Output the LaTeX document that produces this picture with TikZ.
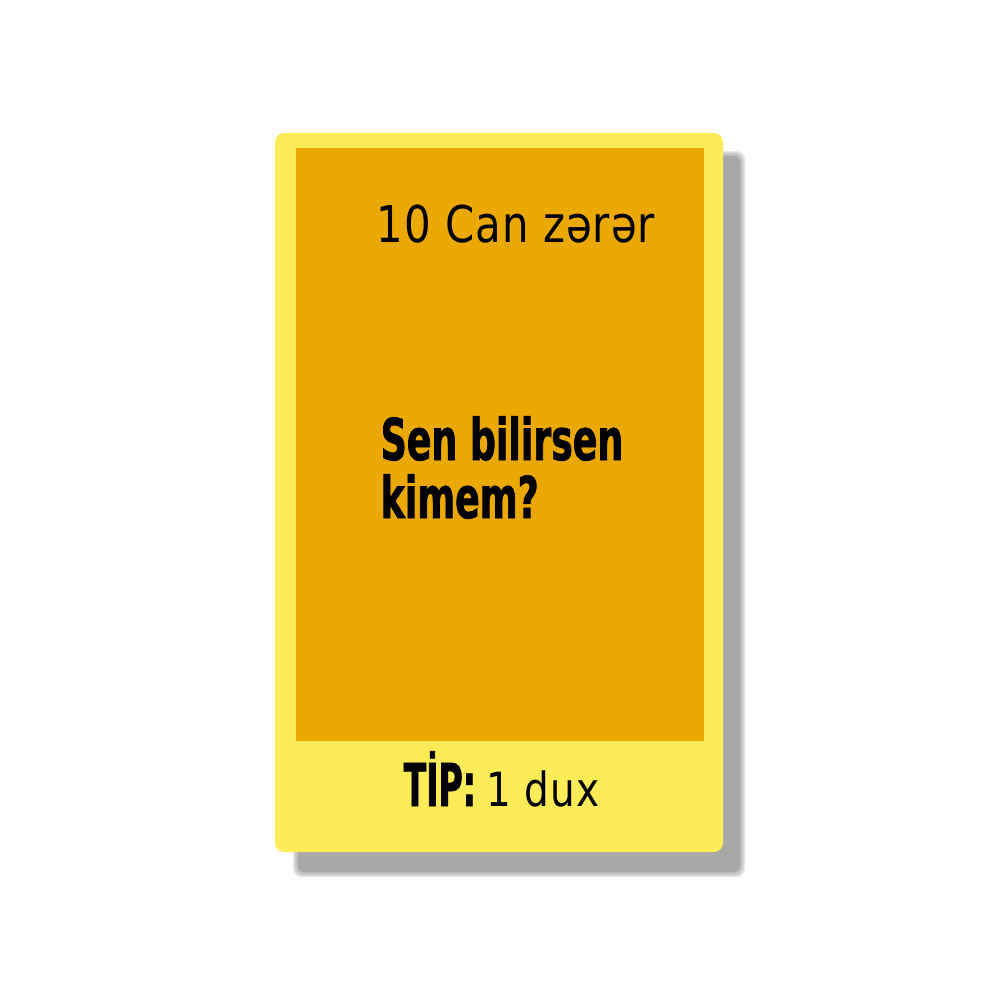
\documentclass[tikz,border=0pt]{standalone}
\usepackage{fontspec}
\setmainfont{DejaVu Sans Condensed}
\newfontfamily\cardfont{DejaVu Sans Condensed}[LetterSpace=2, FakeStretch=0.92]
\newfontfamily\heavyfont{DejaVu Sans Bold}[FakeStretch=0.63, FakeBold=1.2]
\newfontfamily\tipfont{DejaVu Sans Bold}[FakeStretch=0.56, FakeBold=1.2]
\definecolor{cardyellow}{HTML}{FDEC58}
\definecolor{cardorange}{HTML}{EBA800}
\definecolor{shadowgray}{HTML}{A8A8A8}

\begin{document}
\begin{tikzpicture}[x=0.1mm, y=-0.1mm,
    every node/.style = {inner sep=0, anchor=base west, text=black},
    damage/.style = {font=\cardfont\fontsize{14.4}{16}\selectfont},
    question/.style = {font=\heavyfont\fontsize{16.4}{18}\selectfont},
    tiplabel/.style = {font=\tipfont\fontsize{16.8}{18}\selectfont},
    tipvalue/.style = {font=\cardfont\fontsize{13.4}{16}\selectfont}]
  \useasboundingbox (0,0) rectangle (1000,1000);
  % soft shadow
  \foreach \b in {5,4,3,2,1}
    \fill[shadowgray, opacity=0.25, rounded corners=0.8mm]
      (298-\b,156-\b) rectangle (740+\b,872+\b);
  \fill[shadowgray, rounded corners=0.6mm] (298,156) rectangle (740,872);
  % card
  \fill[cardyellow, rounded corners=0.9mm] (275,133) rectangle (723,852);
  \fill[cardorange] (296,148) rectangle (704,741);
  % texts
  \node[damage] (damage) at (376,242) {10 Can zərər};
  \node[question] (line1) at (380,460) {Sen bilirsen};
  \node[question] (line2) at (380,518) {kimem?};
  \node[tiplabel] (tip) at (403,806) {TİP:};
  \node[tipvalue] (dux) at (486,806) {1 dux};
\end{tikzpicture}
\end{document}
